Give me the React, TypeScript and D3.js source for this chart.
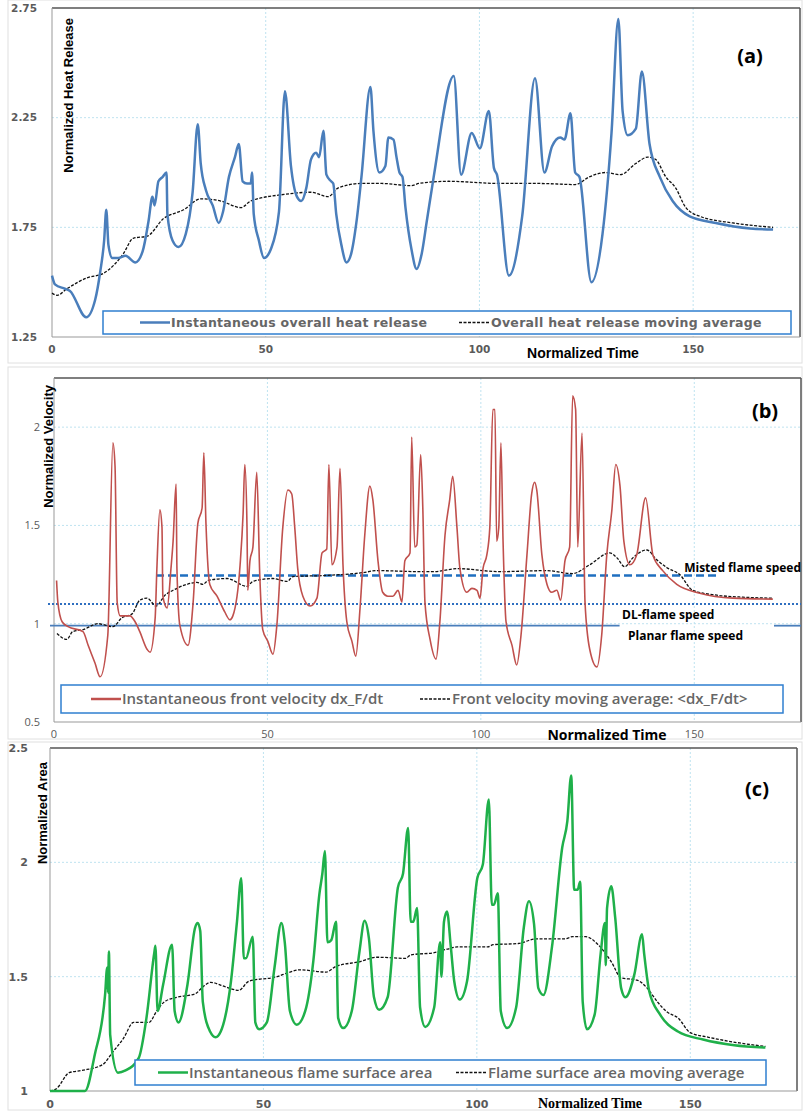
import React from 'react';
import * as d3 from 'd3';

type Pt = [number, number];

// (a) heat release
const heatInst: Pt[] = [
  [0, 1.53], [0.7, 1.49], [3, 1.47], [4.2, 1.46], [8, 1.34], [10.1, 1.42], [11.3, 1.55], [12.2, 1.69], [12.7, 1.83],
  [13.2, 1.67], [14.1, 1.61], [15.5, 1.61], [17.2, 1.62], [19.5, 1.59], [21.2, 1.64], [22.6, 1.78], [23.5, 1.89],
  [24, 1.85], [24.9, 1.96], [25.9, 1.98], [26.8, 2.0], [27, 1.81], [28.2, 1.69], [29.6, 1.66], [31.3, 1.72],
  [32.9, 1.91], [34.1, 2.22], [34.8, 2.04], [36, 1.92], [37.6, 1.85], [39, 1.77], [40, 1.82], [41.4, 1.98],
  [42.8, 2.07], [43.7, 2.13], [44.6, 1.96], [45.6, 1.95], [46.5, 1.95], [46.8, 2.0], [47.2, 1.81], [48.4, 1.69],
  [49.6, 1.61], [51.2, 1.65], [53.1, 1.82], [54.5, 2.37], [55.9, 2.03], [57.3, 1.89], [58.3, 1.87], [59.5, 1.93],
  [60.6, 2.06], [61.8, 2.09], [62.5, 2.07], [63.5, 2.19], [64.2, 1.99], [65.3, 1.96], [65.8, 1.95], [66.5, 1.81],
  [67.7, 1.67], [68.9, 1.59], [70, 1.63], [71.2, 1.77], [72.4, 1.98], [74.5, 2.39], [75.2, 2.19], [76.6, 2.0],
  [78, 2.03], [78.7, 2.16], [79.9, 2.15], [80.6, 2.07], [81.3, 2.0], [82, 1.98], [82.7, 1.84], [84.1, 1.65],
  [85.3, 1.56], [86.5, 1.63], [87.7, 1.78], [89.3, 1.98], [94, 2.44], [95.7, 1.99], [98.2, 2.18], [100.1, 2.11],
  [102.2, 2.28], [103.4, 2.02], [104.1, 1.99], [106.9, 1.53], [110, 1.8], [113, 2.43], [115.2, 2.0], [117, 2.12],
  [118.9, 2.16], [119.9, 2.15], [121.3, 2.27], [122.4, 2.0], [123.4, 1.98], [126.2, 1.5], [128.8, 1.72],
  [130.9, 2.18], [132.5, 2.7], [133.5, 2.28], [134.7, 2.17], [136.6, 2.2], [138, 2.46], [139.8, 2.13],
  [142.2, 1.98], [145.2, 1.87], [149.2, 1.8], [155.3, 1.77], [163.3, 1.745], [168.7, 1.74],
];
const heatAvg: Pt[] = [
  [0, 1.45], [1.2, 1.44], [3.5, 1.47], [8.2, 1.52], [12, 1.54], [16.7, 1.63], [19, 1.7], [22.3, 1.71], [26.1, 1.79],
  [30.8, 1.83], [34.8, 1.88], [39.5, 1.87], [44.2, 1.84], [46.5, 1.87], [54.3, 1.9], [60.6, 1.91], [64.6, 1.89],
  [67, 1.93], [72.4, 1.95], [77.1, 1.95], [84.1, 1.94], [85.8, 1.95], [92.8, 1.96], [104.6, 1.95], [114, 1.95],
  [122.4, 1.945], [125.7, 1.98], [129.5, 2.0], [133, 1.99], [136.5, 2.04], [139.4, 2.07], [141.2, 2.06],
  [143.6, 1.98], [145.9, 1.93], [148.3, 1.84], [151.6, 1.8], [159.3, 1.77], [168.7, 1.75],
];

// (b) front velocity
const velInst: Pt[] = [
  [0.6, 1.22], [0.9, 1.11], [1.9, 1.01], [3.3, 0.985], [6.8, 0.96], [8, 0.89], [9.6, 0.8], [10.8, 0.73], [12.6, 0.94],
  [13.8, 1.92], [14.3, 1.8], [14.8, 1.11], [15.5, 1.04], [17.8, 1.04], [19, 1.01], [20.1, 0.96], [21.8, 0.87],
  [22.5, 0.855], [23.7, 1.03], [24.1, 1.28], [24.8, 1.58], [25.3, 1.49], [25.5, 1.14], [26.5, 1.08], [27.4, 1.28],
  [27.9, 1.42], [28.6, 1.71], [28.8, 1.28], [29.5, 0.99], [31.4, 0.89], [32.6, 1.11], [33.7, 1.51], [34.7, 1.59],
  [35.1, 1.87], [35.6, 1.51], [36.5, 1.2], [38.2, 1.14], [40, 1.06], [41.2, 1.02], [41.9, 1.04], [43.6, 1.3],
  [44.3, 1.56], [44.7, 1.81], [45.2, 1.51], [45.4, 1.17], [45.9, 1.32], [46.6, 1.39], [47.5, 1.77], [48.2, 1.25],
  [48.9, 0.97], [50.1, 0.91], [51.3, 0.845], [52.2, 0.99], [53.6, 1.49], [54.8, 1.68], [55.7, 1.66], [56.4, 1.49],
  [57.1, 1.28], [58.3, 1.14], [60, 1.09], [61.6, 1.13], [62.8, 1.36], [63.9, 1.38], [64.4, 1.81], [65.1, 1.3],
  [66.3, 1.39], [67, 1.79], [67.7, 1.3], [68.6, 1.01], [69.8, 0.91], [70.7, 0.835], [71.7, 1.08], [72.8, 1.45],
  [74, 1.7], [74.7, 1.63], [75.9, 1.32], [77, 1.16], [78.2, 1.14], [79.4, 1.14], [80.6, 1.17], [81.5, 1.11],
  [82.2, 1.32], [83.4, 1.36], [83.8, 1.95], [84.5, 1.39], [85, 1.4], [85.9, 1.86], [86.4, 1.59], [86.9, 1.11],
  [88.1, 0.92], [89.5, 0.82], [90.4, 1.01], [91.6, 1.45], [92.7, 1.63], [93.4, 1.75], [94.4, 1.49], [95.1, 1.28],
  [96.7, 1.16], [97.9, 1.18], [99.1, 1.17], [99.8, 1.13], [100.5, 1.28], [101.4, 1.35], [102.1, 1.49],
  [102.8, 2.09], [103.3, 2.09], [103.7, 1.42], [104.2, 1.49], [104.7, 1.92], [105.2, 1.42], [105.9, 1.01],
  [107.3, 0.89], [108.4, 0.79], [109.4, 0.94], [110.8, 1.35], [111.9, 1.66], [112.6, 1.72], [113.1, 1.68],
  [114.3, 1.35], [115.5, 1.2], [116.6, 1.16], [117.8, 1.17], [118.7, 1.12], [119.7, 1.32], [120.8, 1.39],
  [121.5, 2.16], [122.2, 2.09], [122.7, 1.39], [123.7, 1.97], [124.4, 1.11], [125.5, 0.87], [127.2, 0.78],
  [128.3, 0.94], [129.5, 1.35], [130.7, 1.58], [131.6, 1.81], [132.6, 1.7], [133.5, 1.42], [134.9, 1.3],
  [136.5, 1.35], [138.6, 1.64], [140.3, 1.35], [142.6, 1.27], [145.9, 1.2], [151.3, 1.155], [159, 1.13],
  [168.4, 1.125],
];
const velAvg: Pt[] = [
  [0.7, 0.95], [3, 0.92], [4.4, 0.96], [6.8, 0.97], [10.3, 1.0], [13.8, 0.985], [15.9, 1.03], [18.3, 1.05],
  [20.1, 1.12], [21.8, 1.13], [23.9, 1.09], [26, 1.145], [27.9, 1.17], [31.1, 1.2], [33.5, 1.21], [34.9, 1.2],
  [36.1, 1.22], [40.5, 1.23], [45.2, 1.19], [46.6, 1.215], [51.3, 1.23], [54.6, 1.215], [56, 1.24], [63, 1.245],
  [72.4, 1.26], [75.6, 1.27], [85.7, 1.265], [88.8, 1.265], [94.6, 1.28], [104.4, 1.265], [115.5, 1.27],
  [121.5, 1.255], [125.5, 1.3], [130.2, 1.36], [131.9, 1.335], [133.7, 1.29], [135.6, 1.335], [138.9, 1.375],
  [141.2, 1.325], [143.6, 1.285], [146.6, 1.25], [149.6, 1.17], [155.3, 1.145], [161.4, 1.135], [168.4, 1.13],
];
const mistedSpeed = 1.245;
const dlSpeed = 1.1;
const planarSpeed = 0.99;

// (c) flame surface area
const areaInst: Pt[] = [
  [0, 1.0], [8.2, 1.0], [10.5, 1.16], [12.9, 1.42], [13.4, 1.54], [13.6, 1.43], [13.8, 1.61], [14.1, 1.245],
  [15.9, 1.08], [17.7, 1.09], [20.8, 1.145], [22.6, 1.32], [24.4, 1.6], [24.7, 1.635], [25.2, 1.35], [26.5, 1.465],
  [28.6, 1.64], [29.2, 1.35], [30.1, 1.3], [32.2, 1.465], [34, 1.715], [34.6, 1.735], [35.2, 1.7], [35.8, 1.39],
  [37.5, 1.26], [38.8, 1.235], [40, 1.26], [42.4, 1.48], [43.8, 1.74], [44.8, 1.93], [45.4, 1.58], [45.9, 1.58],
  [47.5, 1.675], [48.1, 1.3], [49, 1.27], [50.8, 1.3], [52.6, 1.54], [54.2, 1.735], [55, 1.65], [56.2, 1.35],
  [57.8, 1.29], [59.8, 1.35], [61.7, 1.57], [63.1, 1.86], [63.8, 1.95], [64.4, 2.05], [65, 1.65], [65.9, 1.66],
  [67, 1.74], [67.5, 1.32], [68.7, 1.275], [70.7, 1.35], [72.5, 1.61], [73.7, 1.745], [74.7, 1.67], [75.9, 1.41],
  [77.1, 1.355], [79.1, 1.41], [81.5, 1.89], [82.7, 1.95], [83.9, 2.15], [84.5, 1.74], [85.1, 1.74], [86, 1.8],
  [86.7, 1.365], [87.9, 1.28], [90, 1.365], [91.4, 1.65], [91.7, 1.5], [92.3, 1.74], [93, 1.785], [93.9, 1.63],
  [94.7, 1.48], [96, 1.4], [97.7, 1.48], [100.1, 1.93], [101.4, 1.99], [102.8, 2.275], [103.5, 1.815],
  [104, 1.815], [104.9, 1.865], [105.6, 1.35], [107.1, 1.275], [109.2, 1.365], [111, 1.715], [112.2, 1.83],
  [113.4, 1.73], [114.4, 1.45], [115.6, 1.42], [117.6, 1.63], [120, 2.065], [121.2, 2.18], [122.1, 2.38],
  [122.8, 1.88], [123.6, 1.88], [124.2, 1.915], [124.8, 1.39], [125.8, 1.27], [127.6, 1.335], [129, 1.6],
  [130, 1.735], [130.2, 1.55], [130.5, 1.8], [131.5, 1.895], [132.4, 1.76], [133.8, 1.45], [134.8, 1.41],
  [136.9, 1.51], [138.7, 1.685], [139.2, 1.6], [140.4, 1.435], [142.9, 1.335], [147.1, 1.26], [153, 1.225],
  [160.3, 1.2], [167.6, 1.19],
];
const areaAvg: Pt[] = [
  [0, 1.0], [1.5, 1.01], [4.5, 1.08], [7.5, 1.09], [12.3, 1.115], [14.7, 1.17], [17.2, 1.23], [19.6, 1.3],
  [23.2, 1.3], [25, 1.35], [26.8, 1.39], [29.8, 1.41], [34, 1.425], [35.8, 1.455], [37.6, 1.475], [41.2, 1.455],
  [44.2, 1.44], [46.6, 1.48], [53.2, 1.5], [56.2, 1.52], [58.6, 1.53], [64.7, 1.52], [67, 1.545], [72.4, 1.565],
  [76.6, 1.585], [83.3, 1.58], [84.5, 1.595], [90, 1.605], [93, 1.62], [95.4, 1.63], [102.6, 1.63], [103.8, 1.64],
  [109.7, 1.645], [113.8, 1.665], [120.6, 1.665], [122.4, 1.675], [125.5, 1.675], [128.4, 1.64], [131.5, 1.565],
  [133.8, 1.495], [137.5, 1.485], [139.9, 1.45], [142.3, 1.39], [144.6, 1.345], [147.1, 1.32], [150, 1.255],
  [154.3, 1.235], [161.5, 1.21], [167.6, 1.195],
];

const xTicks = [0, 50, 100, 150];
const heatTicks = [1.25, 1.75, 2.25, 2.75];
const velTicks = [0.5, 1, 1.5, 2];
const areaTicks = [1, 1.5, 2, 2.5];

const GRID = '#bfe3f0';
const TICK = '#5a5a5a';

interface LegendSpec {
  x: number; y: number; w: number; h: number;
  l1: string; l2: string; l1x: number; l2x: number; font: React.CSSProperties;
}

interface PanelProps {
  top: number; bottom: number; left: number; right: number;
  yDomain: [number, number]; yTicks: number[]; yFmt: (v: number) => string;
  inst: Pt[]; avg: Pt[]; color: string; width: number;
  yTitle: string; tag: string; tagX: number; tagY: number;
  titleX: number; titleY: number; timeFont: string; timeX: number; timeY: number;
  tickFont: React.CSSProperties; xTickY: number; yTickX: number;
  legend: LegendSpec;
  children?: (x: d3.ScaleLinear<number, number>, y: d3.ScaleLinear<number, number>) => React.ReactNode;
}

const Panel: React.FC<PanelProps> = (p) => {
  const x = d3.scaleLinear().domain([0, 175]).range([p.left, p.right]);
  const y = d3.scaleLinear().domain(p.yDomain).range([p.bottom, p.top]);
  const mk = d3.line<Pt>().x(d => x(d[0])).y(d => y(d[1])).curve(d3.curveMonotoneX);
  const lg = p.legend;
  const midY = lg.y + lg.h / 2;
  return (
    <g>
      {xTicks.slice(1).map(t => (
        <line key={'gx' + t} x1={x(t)} x2={x(t)} y1={p.top} y2={p.bottom} stroke={GRID} strokeDasharray="2,2" />
      ))}
      {p.yTicks.slice(1, -1).map(t => (
        <line key={'gy' + t} x1={p.left} x2={p.right} y1={y(t)} y2={y(t)} stroke={GRID} strokeDasharray="2,2" />
      ))}
      <line x1={p.left} x2={p.right} y1={p.top} y2={p.top} stroke="#555" strokeWidth={1.5} />
      <line x1={p.right} x2={p.right} y1={p.top} y2={p.bottom} stroke="#555" strokeWidth={1.5} />
      <line x1={p.left} x2={p.left} y1={p.top} y2={p.bottom} stroke="#999" />
      <line x1={p.left} x2={p.right} y1={p.bottom} y2={p.bottom} stroke="#999" />
      {p.yTicks.map(t => (
        <text key={'ty' + t} x={p.yTickX} y={y(t)} dy="0.35em" textAnchor="end" fill={TICK} style={p.tickFont}>{p.yFmt(t)}</text>
      ))}
      {xTicks.map(t => (
        <text key={'tx' + t} x={x(t)} y={p.xTickY} textAnchor="middle" fill={TICK} style={p.tickFont}>{t}</text>
      ))}
      {p.children && p.children(x, y)}
      <path d={mk(p.avg) || ''} fill="none" stroke="#111" strokeWidth={1.3} strokeDasharray="3,1.5" />
      <path d={mk(p.inst) || ''} fill="none" stroke={p.color} strokeWidth={p.width} strokeLinejoin="round" />
      <rect x={lg.x} y={lg.y} width={lg.w} height={lg.h} fill="#fff" stroke="#2f7fd0" strokeWidth={1.5} />
      <line x1={lg.l1x - 31} x2={lg.l1x - 1} y1={midY} y2={midY} stroke={p.color} strokeWidth={2.5} />
      <text x={lg.l1x} y={midY} dy="0.35em" fill="#666" style={lg.font}>{lg.l1}</text>
      <line x1={lg.l2x - 32} x2={lg.l2x - 1} y1={midY} y2={midY} stroke="#111" strokeWidth={1.3} strokeDasharray="3,1.5" />
      <text x={lg.l2x} y={midY} dy="0.35em" fill="#666" style={lg.font}>{lg.l2}</text>
      <text transform={`translate(${p.titleX},${p.titleY}) rotate(-90)`} textAnchor="end" fill="#000"
        style={{ fontFamily: 'Arial, Liberation Sans', fontWeight: 700, fontSize: 13 }}>{p.yTitle}</text>
      <text x={p.timeX} y={p.timeY} textAnchor="middle" fill="#000"
        style={{ fontFamily: p.timeFont, fontWeight: 700, fontSize: 14 }}>Normalized Time</text>
      <text x={p.tagX} y={p.tagY} textAnchor="middle" fill="#000"
        style={{ fontFamily: 'Open Sans, Liberation Sans', fontWeight: 700, fontSize: 20 }}>{p.tag}</text>
    </g>
  );
};

export default function App() {
  const verdana: React.CSSProperties = { fontFamily: 'DejaVu Sans', fontWeight: 700, fontSize: 12.5, letterSpacing: 0.3 };
  const calibri: React.CSSProperties = { fontFamily: 'Open Sans', fontWeight: 600, fontSize: 15 };
  return (
    <svg width={805} height={1113} style={{ position: 'absolute', left: 0, top: 0, background: '#fff' }}>
      <rect x={8} y={0} width={794} height={363} fill="none" stroke="#e0e0e0" />
      <rect x={8} y={367} width={794} height={372} fill="none" stroke="#e0e0e0" />
      <rect x={8} y={742} width={794} height={368} fill="none" stroke="#e0e0e0" />

      <Panel top={8} bottom={337} left={52} right={800} yDomain={[1.25, 2.75]} yTicks={heatTicks}
        yFmt={v => v.toFixed(2)} inst={heatInst} avg={heatAvg} color="#4a7ebb" width={2.5}
        yTitle="Normalized Heat Release" tag="(a)" tagX={750} tagY={63} titleX={73} titleY={18}
        timeFont="Arial, Liberation Sans" timeX={583} timeY={358}
        tickFont={{ fontFamily: 'DejaVu Sans', fontSize: 10.5, fontWeight: 700 }} xTickY={353} yTickX={37}
        legend={{ x: 103, y: 311, w: 688, h: 23, l1: 'Instantaneous overall heat release', l2: 'Overall heat release moving average', l1x: 171, l2x: 491, font: verdana }}
      />

      <Panel top={378} bottom={722} left={54} right={801} yDomain={[0.5, 2.25]} yTicks={[...velTicks, 2.25]}
        yFmt={v => (v === 2.25 ? '' : String(v))} inst={velInst} avg={velAvg} color="#c0504d" width={1.6}
        yTitle="Normalized Velocity" tag="(b)" tagX={765} tagY={418} titleX={53} titleY={385}
        timeFont="Open Sans" timeX={607} timeY={740}
        tickFont={{ fontFamily: 'Open Sans', fontSize: 11 }} xTickY={738} yTickX={40}
        legend={{ x: 61, y: 685, w: 722, h: 28, l1: 'Instantaneous front velocity dx_F/dt', l2: 'Front velocity moving average: <dx_F/dt>', l1x: 122, l2x: 452, font: calibri }}
      >
        {(x, y) => (
          <g>
            <line x1={x(23.9)} x2={x(155.7)} y1={y(mistedSpeed)} y2={y(mistedSpeed)} stroke="#1f6fc0" strokeWidth={2.5} strokeDasharray="8,4" />
            <line x1={48} x2={801} y1={y(dlSpeed)} y2={y(dlSpeed)} stroke="#2f6fc0" strokeWidth={2} strokeDasharray="2,2" />
            <line x1={50} x2={x(132.5)} y1={y(planarSpeed)} y2={y(planarSpeed)} stroke="#4a7ebb" strokeWidth={1.8} />
            <line x1={774} x2={801} y1={y(planarSpeed)} y2={y(planarSpeed)} stroke="#4a7ebb" strokeWidth={1.8} />
            <text x={801} y={y(mistedSpeed) - 8} dy="0.35em" textAnchor="end" style={{ fontFamily: 'Open Sans', fontWeight: 700, fontSize: 12 }}>Misted flame speed</text>
            <text x={622} y={y(dlSpeed) + 11} dy="0.35em" style={{ fontFamily: 'Open Sans', fontWeight: 700, fontSize: 12 }}>DL-flame speed</text>
            <text x={628} y={y(planarSpeed) + 10} dy="0.35em" style={{ fontFamily: 'Open Sans', fontWeight: 700, fontSize: 12 }}>Planar flame speed</text>
          </g>
        )}
      </Panel>

      <Panel top={748} bottom={1091} left={50} right={797} yDomain={[1, 2.5]} yTicks={areaTicks}
        yFmt={v => String(v)} inst={areaInst} avg={areaAvg} color="#1fb04a" width={2.5}
        yTitle="Normalized Area" tag="(c)" tagX={757} tagY={796} titleX={47} titleY={762}
        timeFont="Liberation Serif, Times New Roman" timeX={590} timeY={1108}
        tickFont={{ fontFamily: 'DejaVu Sans', fontSize: 11, fontWeight: 700 }} xTickY={1108} yTickX={28}
        legend={{ x: 135, y: 1060, w: 631, h: 25, l1: 'Instantaneous flame surface area', l2: 'Flame surface area moving average', l1x: 189, l2x: 488, font: calibri }}
      />
    </svg>
  );
}
